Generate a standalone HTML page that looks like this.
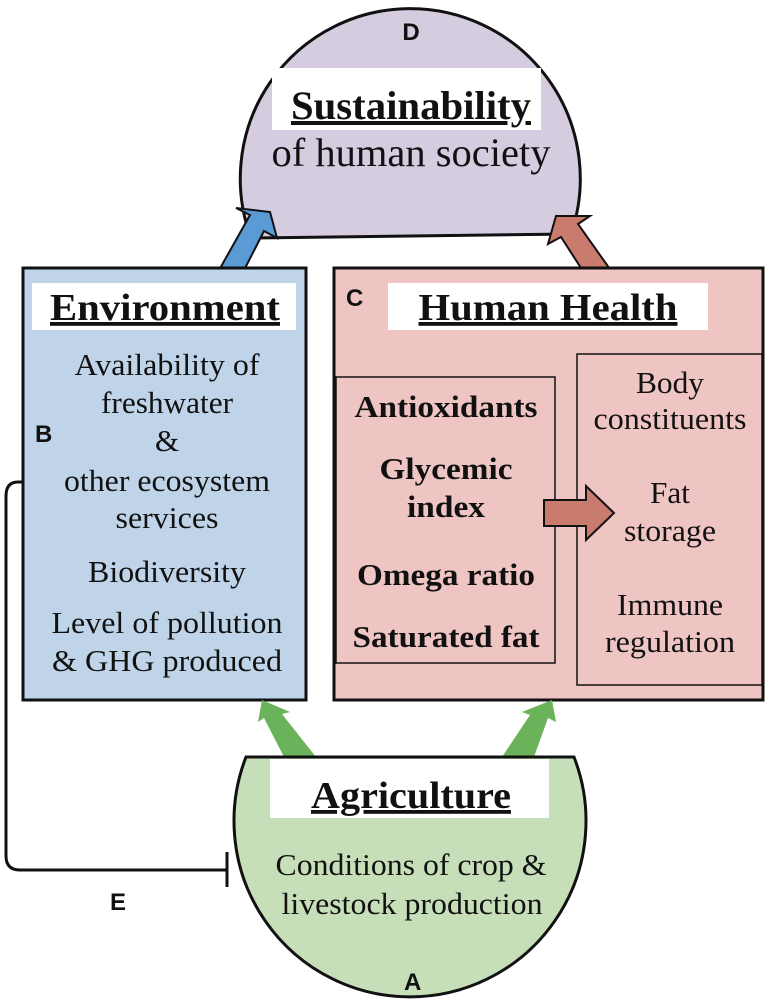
<!DOCTYPE html>
<html><head><meta charset="utf-8"><style>
html,body{margin:0;padding:0;background:#fff}
svg{display:block}
.s{font-family:"Liberation Serif",serif;fill:#111}
.a{font-family:"Liberation Sans",sans-serif;font-weight:bold;fill:#111;font-size:24px}
</style></head><body>
<svg width="768" height="1004" viewBox="0 0 768 1004" xmlns="http://www.w3.org/2000/svg">
<!-- D dome -->
<path d="M251 238 A170 170 0 1 1 571 234 Z" fill="#d5cce0" stroke="#111" stroke-width="3"/>
<rect x="272" y="68" width="269" height="62" fill="#fff"/>
<text x="411" y="40" text-anchor="middle" class="a">D</text>
<text x="411" y="119" text-anchor="middle" class="s" font-size="40" font-weight="bold" text-decoration="underline" textLength="240" lengthAdjust="spacingAndGlyphs">Sustainability</text>
<text x="411" y="166" text-anchor="middle" class="s" font-size="40" textLength="279" lengthAdjust="spacingAndGlyphs">of human society</text>
<!-- arrows up -->
<path d="M218 272 L250 215 L236 208 L270 212 L277 238 L264 231 L238 282 Z" fill="#5a9bd5" stroke="#111" stroke-width="2"/>
<path d="M612 272 L578 224 L590 216 L556 216 L548 244 L561 237 L590 282 Z" fill="#c97b6e" stroke="#111" stroke-width="2"/>
<!-- blue box -->
<rect x="23" y="268" width="283" height="432" fill="#bfd4e8" stroke="#111" stroke-width="3"/>
<rect x="32" y="283" width="264" height="47" fill="#fff"/>
<text x="165" y="320" text-anchor="middle" class="s" font-size="38" font-weight="bold" text-decoration="underline" textLength="230" lengthAdjust="spacingAndGlyphs">Environment</text>
<text x="35" y="442" class="a">B</text>
<g class="s" font-size="31" text-anchor="middle">
<text x="167" y="375" textLength="185" lengthAdjust="spacingAndGlyphs">Availability of</text>
<text x="167" y="413" textLength="132" lengthAdjust="spacingAndGlyphs">freshwater</text>
<text x="167" y="451">&amp;</text>
<text x="167" y="491" textLength="206" lengthAdjust="spacingAndGlyphs">other ecosystem</text>
<text x="167" y="528" textLength="103" lengthAdjust="spacingAndGlyphs">services</text>
<text x="167" y="582" textLength="158" lengthAdjust="spacingAndGlyphs">Biodiversity</text>
<text x="167" y="633" textLength="231" lengthAdjust="spacingAndGlyphs">Level of pollution</text>
<text x="167" y="671" textLength="230" lengthAdjust="spacingAndGlyphs">&amp; GHG produced</text>
</g>
<!-- pink box -->
<rect x="334" y="268" width="429" height="432" fill="#efc5c3" stroke="#111" stroke-width="3"/>
<rect x="388" y="283" width="320" height="47" fill="#fff"/>
<text x="346" y="306" class="a">C</text>
<text x="548" y="320" text-anchor="middle" class="s" font-size="38" font-weight="bold" text-decoration="underline" textLength="259" lengthAdjust="spacingAndGlyphs">Human Health</text>
<rect x="336" y="377" width="219" height="286" fill="none" stroke="#111" stroke-width="1.5"/>
<rect x="577" y="354" width="185" height="331" fill="none" stroke="#111" stroke-width="1.5"/>
<g class="s" font-size="31" font-weight="bold" text-anchor="middle">
<text x="446" y="417" textLength="183" lengthAdjust="spacingAndGlyphs">Antioxidants</text>
<text x="446" y="479" textLength="133" lengthAdjust="spacingAndGlyphs">Glycemic</text>
<text x="446" y="517" textLength="78" lengthAdjust="spacingAndGlyphs">index</text>
<text x="446" y="585" textLength="178" lengthAdjust="spacingAndGlyphs">Omega ratio</text>
<text x="446" y="647" textLength="187" lengthAdjust="spacingAndGlyphs">Saturated fat</text>
</g>
<g class="s" font-size="31" text-anchor="middle">
<text x="670" y="393" textLength="68" lengthAdjust="spacingAndGlyphs">Body</text>
<text x="670" y="429" textLength="153" lengthAdjust="spacingAndGlyphs">constituents</text>
<text x="670" y="503" textLength="40" lengthAdjust="spacingAndGlyphs">Fat</text>
<text x="670" y="541" textLength="92" lengthAdjust="spacingAndGlyphs">storage</text>
<text x="670" y="615" textLength="106" lengthAdjust="spacingAndGlyphs">Immune</text>
<text x="670" y="652" textLength="130" lengthAdjust="spacingAndGlyphs">regulation</text>
</g>
<path d="M544 500 L586 500 L586 486 L614 513 L586 540 L586 526 L544 526 Z" fill="#c97b6e" stroke="#111" stroke-width="2"/>
<!-- green arrows -->
<path d="M284 757 L264 718 L258 722 L262 700 L290 712 L282 714 L316 757 Z" fill="#6ab35b"/>
<path d="M502 757 L530 715 L522 712 L552 700 L556 722 L548 718 L534 757 Z" fill="#6ab35b"/>
<!-- A -->
<path d="M246 757 A176 176 0 1 0 574 757 Z" fill="#c6dfb8" stroke="#111" stroke-width="3"/>
<rect x="270" y="759" width="279" height="59" fill="#fff"/>
<text x="411" y="808" text-anchor="middle" class="s" font-size="38" font-weight="bold" text-decoration="underline" textLength="200" lengthAdjust="spacingAndGlyphs">Agriculture</text>
<text x="411" y="875" text-anchor="middle" class="s" font-size="31" textLength="271" lengthAdjust="spacingAndGlyphs">Conditions of crop &amp;</text>
<text x="412" y="914" text-anchor="middle" class="s" font-size="31" textLength="261" lengthAdjust="spacingAndGlyphs">livestock production</text>
<text x="404" y="990" class="a">A</text>
<!-- E inhibitor -->
<path d="M23 482 L18 482 Q6 482 6 496 L6 856 Q6 870 20 870 L226 870" fill="none" stroke="#111" stroke-width="3"/>
<line x1="227" y1="852" x2="227" y2="887" stroke="#111" stroke-width="3"/>
<text x="110" y="910" class="a">E</text>
</svg>
</body></html>
